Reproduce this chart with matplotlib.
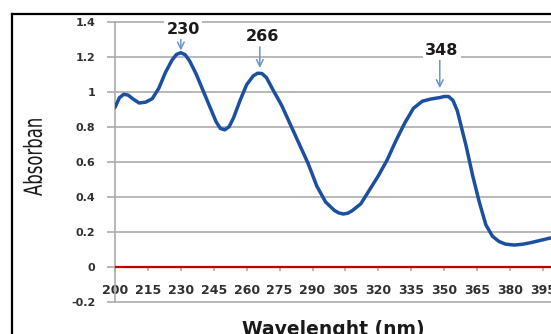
import matplotlib
matplotlib.use("Agg")
import matplotlib.pyplot as plt
from matplotlib.lines import Line2D
from matplotlib.textpath import TextPath
from matplotlib.patches import PathPatch
from matplotlib.font_manager import FontProperties
from matplotlib.transforms import Affine2D, IdentityTransform

# spectrum
wavelength = [200, 202, 204, 206, 208, 211, 214, 217, 220, 223, 226, 228, 230, 232, 234, 237,
              240, 243, 246, 248, 250, 252, 254, 257, 260, 263, 265, 267, 269, 272, 276, 280,
              284, 288, 292, 296, 300, 302, 304, 306, 308, 312, 316, 320, 324, 328, 332, 336,
              340, 344, 348, 350, 352, 354, 356, 358, 360, 363, 366, 369, 372, 375, 378,
              382, 386, 390, 394, 398, 400]
absorbance = [0.91, 0.965, 0.985, 0.98, 0.96, 0.935, 0.94, 0.96, 1.02, 1.11, 1.18, 1.212, 1.222, 1.21, 1.175, 1.10,
              1.01, 0.92, 0.83, 0.79, 0.782, 0.80, 0.85, 0.95, 1.04, 1.09, 1.105, 1.103, 1.08, 1.01, 0.92, 0.81,
              0.70, 0.59, 0.46, 0.37, 0.322, 0.308, 0.302, 0.306, 0.32, 0.36, 0.44, 0.52, 0.61, 0.72, 0.82, 0.905,
              0.945, 0.958, 0.966, 0.972, 0.972, 0.95, 0.89, 0.79, 0.69, 0.52, 0.37, 0.24, 0.175, 0.145, 0.13,
              0.125, 0.13, 0.14, 0.152, 0.164, 0.17]
baseline_x = [200, 405]
baseline_y = [0, 0]

peaks = [230, 266, 348]

x_ticks = list(range(200, 400, 15))
y_ticks = [-0.2, 0, 0.2, 0.4, 0.6, 0.8, 1, 1.2, 1.4]
y_labels = ["-0.2", "0", "0.2", "0.4", "0.6", "0.8", "1", "1.2", "1.4"]

fig = plt.figure(figsize=(5.51, 3.34), dpi=100)
ax = fig.add_axes([115 / 551, 1 - 302 / 334, 440 / 551, 280.5 / 334])

grid_c = "#ababab"
ax.set_xlim(200, 400.5)
ax.set_ylim(-0.2, 1.4)
for yv in y_ticks:
    ax.axhline(yv, color=grid_c, lw=1.2, zorder=1, clip_on=False)

ax.plot(baseline_x, baseline_y, color="#c00000", lw=1.6, zorder=3)
ax.plot(wavelength, absorbance, color="#1c4f9f", lw=2.5, zorder=4,
        solid_capstyle="round", solid_joinstyle="round")

for spine in ["top", "right"]:
    ax.spines[spine].set_visible(False)
ax.spines["left"].set_color(grid_c)
ax.spines["left"].set_linewidth(1.2)
ax.spines["bottom"].set_position(("data", 0))
ax.spines["bottom"].set_color(grid_c)

ax.set_yticks(y_ticks)
ax.set_yticklabels(y_labels)
ax.set_xticks(x_ticks)
ax.set_xticklabels([str(v) for v in x_ticks])
ax.tick_params(axis="y", length=6, width=1.2, color=grid_c, pad=8,
               labelsize=8, labelcolor="#303030")
ax.tick_params(axis="x", length=3, width=1.2, color=grid_c, pad=9,
               labelsize=9, labelcolor="#303030")
for lab in ax.get_xticklabels() + ax.get_yticklabels():
    lab.set_fontweight("bold")

# peak labels with arrows (label height, arrow start, arrow tip)
label_y = [1.355, 1.315, 1.235]
arrow_top = [1.305, 1.255, 1.18]
arrow_tip = [1.235, 1.135, 1.02]
for p, ly, at, tip in zip(peaks, label_y, arrow_top, arrow_tip):
    ax.annotate("", xy=(p, tip), xytext=(p, at),
                arrowprops=dict(arrowstyle="->", color="#6a93cc", lw=1.1,
                                mutation_scale=12, shrinkA=0, shrinkB=0), zorder=5)
    ax.text(p + 1, ly, str(p), ha="center", va="center", fontsize=11.5,
            fontweight="bold", color="#1a1a1a", zorder=6,
            bbox=dict(boxstyle="square,pad=0.15", fc="white", ec="none"))

# condensed y label: text path squeezed along its length
tp = TextPath((0, 0), "Absorban", size=25, prop=FontProperties(family="DejaVu Sans"))
bb = tp.get_extents()
cx, cy = (bb.x0 + bb.x1) / 2, (bb.y0 + bb.y1) / 2
tr = (Affine2D().translate(-cx, -cy).scale(0.66, 1.0).rotate_deg(90)
      .translate(32.5, 334 - 157.5))
fig.add_artist(PathPatch(tr.transform_path(tp), transform=IdentityTransform(),
                         fc="#1a1a1a", ec="none"))

fig.text(333 / 551, 1 - 335 / 334, "Wavelenght (nm)", ha="center", va="baseline",
         fontsize=13.5, fontweight="bold", color="#1a1a1a")

# black frame of the pasted chart
fig.add_artist(Line2D([12 / 551, 1.0], [1 - 14 / 334] * 2, color="black", lw=1.6))
fig.add_artist(Line2D([12 / 551] * 2, [0.0, 1 - 14 / 334], color="black", lw=1.6))

fig.savefig("out.png", dpi=100)
